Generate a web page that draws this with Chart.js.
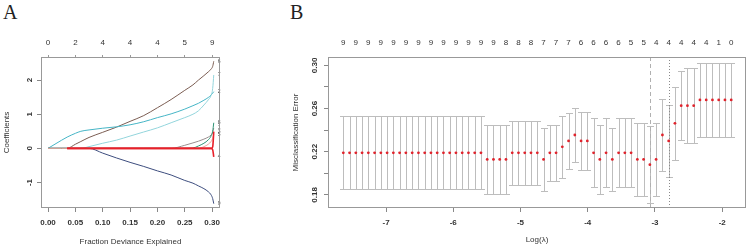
<!DOCTYPE html>
<html>
<head>
<meta charset="utf-8">
<script src="https://cdn.jsdelivr.net/npm/chart.js@4.4.1/dist/chart.umd.min.js"></script>
<style>
  html, body { margin: 0; padding: 0; background: #fff; }
  body { width: 752px; height: 250px; position: relative; overflow: hidden; }
  canvas { position: absolute; top: 0; }
  #cA { left: 0; }
  #cB { left: 240px; }
  .tag { position: absolute; font-family: "Liberation Serif", "DejaVu Serif", serif; font-size: 20px; line-height: 1; color: #222; }
</style>
</head>
<body>
<div class="tag" style="left:3px;top:2px">A</div>
<div class="tag" style="left:290px;top:2px">B</div>
<canvas id="cA" width="232" height="250"></canvas>
<canvas id="cB" width="512" height="250"></canvas>
<script>
const FONT = '"Liberation Sans", Arial, sans-serif';

// ---------- panel A : coefficient paths ----------
const devFrac   = [0, 0.025, 0.035, 0.05, 0.06, 0.075, 0.1, 0.125, 0.15, 0.175, 0.2, 0.225, 0.25, 0.265, 0.275, 0.285, 0.293, 0.298, 0.301, 0.303];
const devTicks  = [0, 0.05, 0.1, 0.15, 0.2, 0.25, 0.3];
const nzeroA    = ['0', '2', '4', '4', '4', '5', '9'];
const coefTicks = [-1, 0, 1, 2];

const pathRedUp   = [null, null, 0, 0, 0, 0, 0, 0, 0, 0, 0, 0, 0, 0, 0, 0, 0, 0, 0.04, 0.49];
const pathRedDown = [null, null, 0, 0, 0, 0, 0, 0, 0, 0, 0, 0, 0, 0, 0, 0, 0, 0, -0.04, -0.25];
const pathBrown   = [0, 0, 0, 0.12, 0.2, 0.32, 0.47, 0.62, 0.79, 0.96, 1.19, 1.43, 1.7, 1.86, 2.0, 2.13, 2.24, 2.32, 2.4, 2.55];
const pathTeal    = [0, 0.24, 0.33, 0.44, 0.5, 0.54, 0.59, 0.63, 0.69, 0.78, 0.9, 1.01, 1.15, 1.25, 1.32, 1.41, 1.49, 1.56, 1.62, 1.66];
const pathCyan    = [0, 0, 0, 0, 0, 0.05, 0.15, 0.24, 0.36, 0.48, 0.6, 0.75, 0.9, 1.0, 1.1, 1.27, 1.42, 1.55, 1.75, 2.15];
const pathNavy    = [0, 0, 0, 0, 0, 0, -0.14, -0.28, -0.41, -0.53, -0.66, -0.78, -0.94, -1.02, -1.1, -1.18, -1.27, -1.36, -1.47, -1.62];
const pathGray    = [0, 0, 0, 0, 0, 0, 0, 0, 0, 0, 0, 0, 0.09, 0.16, 0.21, 0.27, 0.33, 0.39, 0.47, 0.6];
const pathGreen   = [0, 0, 0, 0, 0, 0, 0, 0, 0, 0, 0, 0, 0, 0.01, 0.07, 0.15, 0.25, 0.36, 0.5, 0.75];
const pathPink    = [0, 0, 0, 0, 0, 0, 0, 0, 0, 0, 0, 0, 0, 0, 0, 0.05, 0.12, 0.2, 0.29, 0.4];

// ---------- panel B : cross-validation ----------
const logLambda = [-7.635, -7.542, -7.449, -7.356, -7.263, -7.170, -7.077, -6.984, -6.891, -6.798,
                   -6.705, -6.611, -6.518, -6.425, -6.332, -6.239, -6.146, -6.053, -5.960, -5.867,
                   -5.774, -5.681, -5.588, -5.495, -5.402, -5.309, -5.216, -5.123, -5.030, -4.937,
                   -4.844, -4.750, -4.657, -4.564, -4.471, -4.378, -4.285, -4.192, -4.099, -4.006,
                   -3.913, -3.820, -3.727, -3.634, -3.541, -3.448, -3.355, -3.262, -3.169, -3.076,
                   -2.983, -2.889, -2.796, -2.703, -2.610, -2.517, -2.424, -2.331, -2.238, -2.145,
                   -2.052, -1.959, -1.866];
const cvm = [0.219, 0.219, 0.219, 0.219, 0.219, 0.219, 0.219, 0.219, 0.219, 0.219,
             0.219, 0.219, 0.219, 0.219, 0.219, 0.219, 0.219, 0.219, 0.219, 0.219,
             0.219, 0.219, 0.219, 0.2128, 0.2128, 0.2128, 0.2128, 0.219, 0.219, 0.219,
             0.219, 0.219, 0.2128, 0.219, 0.219, 0.2245, 0.230, 0.2355, 0.230, 0.230,
             0.219, 0.2128, 0.219, 0.2128, 0.219, 0.219, 0.219, 0.2128, 0.2128, 0.208,
             0.2128, 0.2355, 0.230, 0.2463, 0.2627, 0.2627, 0.2627, 0.268, 0.268, 0.268,
             0.268, 0.268, 0.268];
const cvsd = [0.034, 0.034, 0.034, 0.034, 0.034, 0.034, 0.034, 0.034, 0.034, 0.034,
              0.034, 0.034, 0.034, 0.034, 0.034, 0.034, 0.034, 0.034, 0.034, 0.034,
              0.034, 0.034, 0.034, 0.0323, 0.0323, 0.0323, 0.0323, 0.0297, 0.0297, 0.0297,
              0.0297, 0.0297, 0.029, 0.026, 0.026, 0.0285, 0.026, 0.025, 0.027, 0.027,
              0.032, 0.032, 0.032, 0.029, 0.032, 0.032, 0.032, 0.034, 0.034, 0.036,
              0.034, 0.033, 0.033, 0.034, 0.032, 0.035, 0.035, 0.034, 0.034, 0.034,
              0.034, 0.034, 0.034];
// nonzero counts printed on top, every second lambda
const nzeroB = ['9', '9', '9', '9', '9', '9', '9', '9', '9', '9', '9', '9', '9',
                '8', '8', '8', '7', '7', '7', '6', '6', '6', '6', '5', '5',
                '4', '4', '4', '4', '4', '1', '0'];
const logTicks = [-7, -6, -5, -4, -3, -2];
const errTicks = [0.18, 0.20, 0.22, 0.24, 0.26, 0.28, 0.30];
const errLabelTicks = [0.18, 0.22, 0.26, 0.30];
const lambdaMinLog = -3.076;
const lambda1seLog = -2.796;

// frame + rotated y labels (R style)
function framePlugin(labelTicks, labelX, fmt) {
  return {
    id: 'frame',
    afterDraw(chart) {
      const {ctx, chartArea: a, scales} = chart;
      ctx.save();
      ctx.strokeStyle = '#999';
      ctx.lineWidth = 1;
      ctx.strokeRect(a.left + 0.5, a.top + 0.5, a.right - a.left - 1, a.bottom - a.top - 1);
      ctx.fillStyle = '#333';
      ctx.font = 'bold 8px ' + FONT;
      ctx.textAlign = 'center';
      ctx.textBaseline = 'middle';
      labelTicks.forEach(v => {
        ctx.save();
        ctx.translate(labelX, scales.y.getPixelForValue(v));
        ctx.rotate(-Math.PI / 2);
        ctx.fillText(fmt(v), 0, 0);
        ctx.restore();
      });
      ctx.restore();
    }
  };
}

function xAxis(min, max, ticks, fmt, title, titlePad) {
  return {
    type: 'linear', position: 'bottom', min: min, max: max,
    afterBuildTicks: s => { s.ticks = ticks.map(v => ({value: v})); },
    afterFit: s => { s.height = 42; },
    grid: {drawOnChartArea: false, drawTicks: true, tickLength: 4, color: '#888'},
    border: {display: false},
    ticks: {font: {family: FONT, size: 8, weight: 'bold'}, color: '#333', padding: 6,
            maxRotation: 0, autoSkip: false, callback: fmt},
    title: {display: true, text: title, font: {family: FONT, size: 8}, color: '#333',
            padding: {top: 0, bottom: titlePad}}
  };
}

// ---- chart A ----
const pathsA = [
  {data: pathRedUp, color: '#e8202a', w: 1.6, label: '3'},
  {data: pathRedDown, color: '#e8202a', w: 1.6, label: '4'},
  {data: pathPink, color: '#eaa59c', w: 1, label: '5'},
  {data: pathGreen, color: '#2e9476', w: 1, label: '8'},
  {data: pathGray, color: '#9a8f8f', w: 1, label: '1'},
  {data: pathNavy, color: '#3d4d7e', w: 1, label: '9'},
  {data: pathCyan, color: '#93d5dc', w: 1, label: '7'},
  {data: pathTeal, color: '#45b5c6', w: 1, label: '2'},
  {data: pathBrown, color: '#7b5d52', w: 1, label: '6'}
];

const endLabels = {
  id: 'endLabels',
  afterDatasetsDraw(chart) {
    const {ctx, scales: {x, y}} = chart;
    ctx.save();
    ctx.font = '5px ' + FONT;
    ctx.fillStyle = '#444';
    ctx.textBaseline = 'middle';
    const last = devFrac.length - 1;
    pathsA.forEach(p => {
      ctx.fillText(p.label, x.getPixelForValue(devFrac[last]) + 4, y.getPixelForValue(p.data[last]));
    });
    ctx.restore();
  }
};

new Chart(document.getElementById('cA'), {
  type: 'line',
  data: {
    datasets: pathsA.map(p => ({
      data: devFrac.map((d, i) => ({x: d, y: p.data[i]})),
      borderColor: p.color, borderWidth: p.w, pointRadius: 0,
      cubicInterpolationMode: 'monotone', spanGaps: false
    }))
  },
  options: {
    responsive: false, animation: false, devicePixelRatio: 1,
    layout: {padding: {right: 12}},
    plugins: {legend: {display: false}, tooltip: {enabled: false}},
    scales: {
      x: xAxis(-0.0128, 0.3144, devTicks, v => v.toFixed(2), 'Fraction Deviance Explained', 3.5),
      xTop: {
        type: 'linear', position: 'top', min: -0.0128, max: 0.3144,
        afterBuildTicks: s => { s.ticks = devTicks.map(v => ({value: v})); },
        afterFit: s => { s.height = 57; },
        grid: {drawOnChartArea: false, drawTicks: true, tickLength: 2, color: '#999'},
        border: {display: false},
        ticks: {font: {family: FONT, size: 8}, color: '#333', padding: 7, maxRotation: 0,
                autoSkip: false, callback: (v, i) => nzeroA[i]}
      },
      y: {
        type: 'linear', min: -1.747, max: 2.676,
        afterBuildTicks: s => { s.ticks = coefTicks.map(v => ({value: v})); },
        afterFit: s => { s.width = 41; },
        grid: {drawOnChartArea: false, drawTicks: true, tickLength: 4, color: '#888'},
        border: {display: false},
        ticks: {display: false},
        title: {display: true, text: 'Coefficients', font: {family: FONT, size: 8}, color: '#333',
                padding: {top: 2.2, bottom: 0}}
      }
    }
  },
  plugins: [endLabels, framePlugin(coefTicks, 29.5, v => String(v))]
});

// ---- chart B ----
const errorBars = {
  id: 'errorBars',
  beforeDatasetsDraw(chart) {
    const {ctx, chartArea: a, scales: {x, y}} = chart;
    ctx.save();
    ctx.strokeStyle = '#bdbdbd';
    ctx.lineWidth = 1;
    ctx.beginPath();
    logLambda.forEach((l, i) => {
      const px = Math.round(x.getPixelForValue(l)) + 0.5;
      const hi = Math.round(y.getPixelForValue(cvm[i] + cvsd[i])) + 0.5;
      const lo = Math.round(y.getPixelForValue(cvm[i] - cvsd[i])) + 0.5;
      ctx.moveTo(px, hi); ctx.lineTo(px, lo);
      ctx.moveTo(px - 3.5, hi); ctx.lineTo(px + 3.5, hi);
      ctx.moveTo(px - 3.5, lo); ctx.lineTo(px + 3.5, lo);
    });
    ctx.stroke();
    [[lambdaMinLog, [4, 3], '#b0b0b0'], [lambda1seLog, [1, 2], '#8a8a8a']].forEach(([v, dash, col]) => {
      const px = Math.round(x.getPixelForValue(v)) + 0.5;
      ctx.strokeStyle = col;
      ctx.setLineDash(dash);
      ctx.beginPath();
      ctx.moveTo(px, a.top);
      ctx.lineTo(px, a.bottom);
      ctx.stroke();
    });
    ctx.restore();
  }
};

const topTickPos = logLambda.filter((v, i) => i % 2 === 0);

new Chart(document.getElementById('cB'), {
  type: 'scatter',
  data: {
    datasets: [{
      data: logLambda.map((l, i) => ({x: l, y: cvm[i]})),
      pointRadius: 1.4, pointBorderWidth: 0, pointBackgroundColor: '#e0232c'
    }]
  },
  options: {
    responsive: false, animation: false, devicePixelRatio: 1,
    layout: {padding: {right: 6}},
    plugins: {legend: {display: false}, tooltip: {enabled: false}},
    scales: {
      x: xAxis(-7.863, -1.646, logTicks, v => String(v), 'Log(λ)', 5.2),
      xTop: {
        type: 'linear', position: 'top', min: -7.863, max: -1.646,
        afterBuildTicks: s => { s.ticks = topTickPos.map(v => ({value: v})); },
        afterFit: s => { s.height = 57; },
        grid: {display: true, drawOnChartArea: false, drawTicks: false},
        border: {display: false},
        ticks: {font: {family: FONT, size: 8}, color: '#333', padding: 9.5, maxRotation: 0,
                autoSkip: false, callback: (v, i) => nzeroB[i]}
      },
      y: {
        type: 'linear', min: 0.1678, max: 0.3078,
        afterBuildTicks: s => { s.ticks = errTicks.map(v => ({value: v})); },
        afterFit: s => { s.width = 88; },
        grid: {drawOnChartArea: false, drawTicks: true, tickLength: 4, color: '#888'},
        border: {display: false},
        ticks: {display: false},
        title: {display: true, text: 'Misclassification Error', font: {family: FONT, size: 8}, color: '#333',
                padding: {top: 50.7, bottom: 0}}
      }
    }
  },
  plugins: [errorBars, framePlugin(errLabelTicks, 75, v => v.toFixed(2))]
});
</script>
</body>
</html>
